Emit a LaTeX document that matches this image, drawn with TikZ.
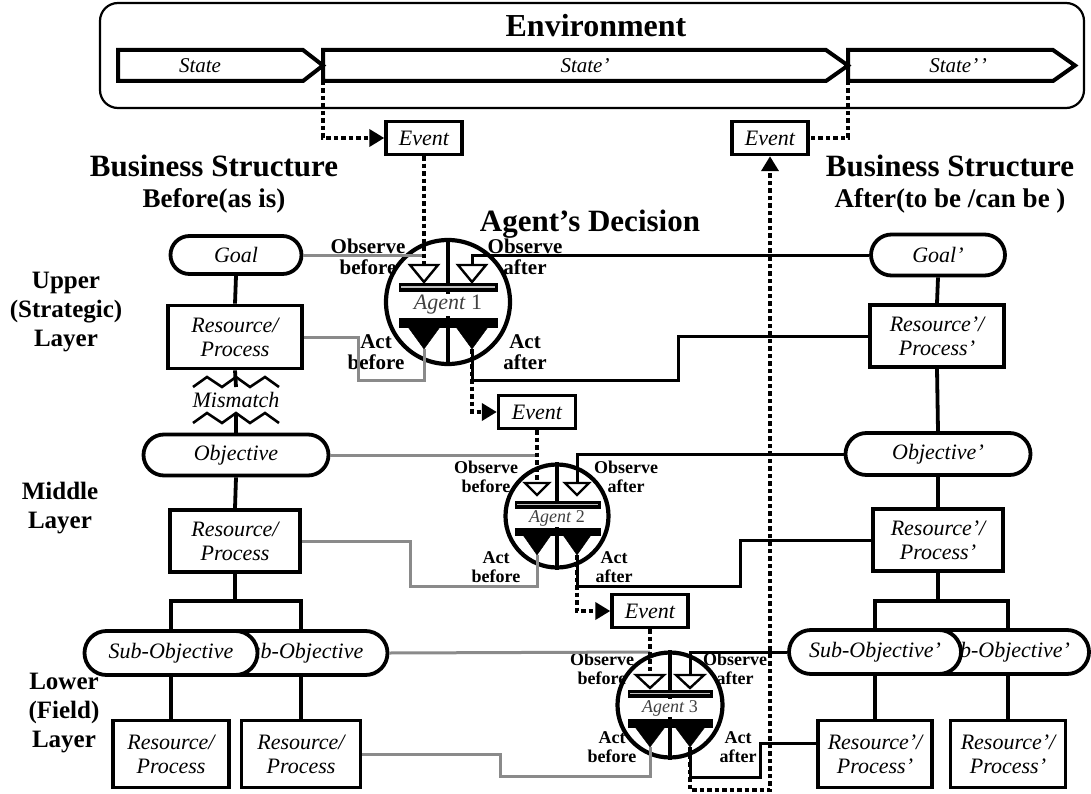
\documentclass[tikz,border=0pt]{standalone}
\usepackage{fontspec}
\setmainfont{Liberation Serif}
\usetikzlibrary{shapes.misc,arrows.meta}
\newcommand\fsz[2]{\fontsize{#1pt}{#2pt}\selectfont}
\definecolor{linkgray}{HTML}{8A8A8A}
\definecolor{agentgray}{HTML}{404040}
\begin{document}
\begin{tikzpicture}[x=1pt,y=-1pt,
  box/.style={draw, line width=3.8pt, fill=white, inner sep=1pt, align=center, font=\fsz{22}{24}\itshape},
  stad/.style={rounded rectangle, draw, line width=3.8pt, fill=white, inner sep=1pt, font=\fsz{22}{24}\itshape},
  evbox/.style={draw, line width=3.4pt, fill=white, inner sep=1pt, minimum width=76pt, minimum height=33pt, font=\fsz{22}{24}\itshape},
  tree/.style={line width=3.8pt},
  lk/.style={line width=3pt},
  gl/.style={line width=3pt, draw=linkgray},
  evl/.style={line width=4.5pt, dash pattern=on 4.5pt off 3pt},
  evtip/.style={-{Triangle[length=15pt,width=17pt]}},
  statebox/.style={line width=4pt},
  head/.style={font=\fsz{31}{33}\bfseries},
  subhead/.style={font=\fsz{27}{29}\bfseries},
  layer/.style={font=\fsz{25}{29}\bfseries, align=center},
  lblA/.style={font=\fsz{21}{21}\bfseries, align=center, inner sep=0},
  lblB/.style={font=\fsz{18}{19}\bfseries, align=center, inner sep=0},
  ring/.style={circle, draw, line width=4.2pt, inner sep=0},
  otri/.style={line width=2.4pt, fill=white},
  atri/.style={fill=black},
  bar/.style={fill=black},
]
\useasboundingbox (0,0) rectangle (1091,794);

% ---------------- Environment ----------------
\draw[line width=2.2pt, rounded corners=18pt] (100,3) rectangle (1084,108);
\node[font=\fsz{32}{34}\bfseries] (env) at (596,26) {Environment};
\draw[statebox] (118,50) -- (303,50) -- (323,65.5) -- (303,81) -- (118,81) -- cycle;
\draw[statebox] (323,50) -- (826,50) -- (848,65.5) -- (826,81) -- (323,81) -- cycle;
\draw[statebox] (848,50) -- (1053,50) -- (1075,65.5) -- (1053,81) -- (848,81) -- cycle;
\node[font=\fsz{21}{23}\itshape] (s1) at (200,66) {State};
\node[font=\fsz{21}{23}\itshape] (s2) at (585,66) {State’};
\node[font=\fsz{21}{23}\itshape] (s3) at (958,66) {State’\kern1.5pt’};
\coordinate (b1) at (323,81);
\coordinate (b2) at (848,81);

% ---------------- headings ----------------
\node[head] (bsl) at (214,166) {Business Structure};
\node[subhead] (bsl2) at (214,201) {Before(as is)};
\node[head] (bsr) at (950,166) {Business Structure};
\node[subhead] (bsr2) at (950,201) {After(to be /can be )};
\node[head] (dec) at (590,224) {Agent’s Decision};

\node[layer] (lu) at (66,312) {Upper\\(Strategic)\\Layer};
\node[layer] (lm) at (60,508) {Middle\\Layer};
\node[layer] (ll) at (64,713) {Lower\\(Field)\\Layer};

% ---------------- events ----------------
\node[evbox] (ev1) at (424,138) {Event};
\node[evbox] (ev2) at (770,138) {Event};
\node[evbox, minimum width=77pt] (ev3) at (537,412) {Event};
\node[evbox] (ev4) at (650,611) {Event};

% ---------------- left column ----------------
\node[stad, minimum width=133pt, minimum height=38pt] (goal) at (236,255) {Goal};
\node[box, minimum width=134pt, minimum height=63pt] (res1) at (235,337) {Resource/\\Process};
\node[font=\fsz{22}{24}\itshape, inner sep=0] (mm) at (236,400) {Mismatch};
\node[stad, minimum width=187pt, minimum height=41pt] (obj) at (236,455) {Objective};
\node[box, minimum width=130pt, minimum height=62pt] (res2) at (235,541) {Resource/\\Process};
\node[stad, minimum width=175pt, minimum height=44pt] (sub2) at (301,653) {Sub-Objective};
\node[stad, minimum width=175pt, minimum height=44pt] (sub1) at (171,653) {Sub-Objective};
\node[box, minimum width=116pt, minimum height=67pt] (res3) at (171,754) {Resource/\\Process};
\node[box, minimum width=119pt, minimum height=67pt] (res4) at (301,754) {Resource/\\Process};

\draw[tree] (goal.south) -- (res1.north);
\draw[tree] (res1.south) -- (236,387);
\draw[tree] (236,413) -- (obj.north);
\draw[line width=2.6pt] (193,387) -- (207,377) -- (222,387) -- (236,377) -- (250,387) -- (265,377) -- (279,387);
\draw[line width=2.6pt] (193,423) -- (207,413) -- (222,423) -- (236,413) -- (250,423) -- (265,413) -- (279,423);
\draw[tree] (obj.south) -- (res2.north);
\coordinate (lj) at (235,601);
\draw[tree] (res2.south) -- (lj);
\draw[tree] (171,631) |- (301,601) -- (301,631);
\draw[tree] (sub1.south) -- (res3.north);
\draw[tree] (sub2.south) -- (res4.north);

% ---------------- right column ----------------
\node[stad, minimum width=136pt, minimum height=41pt] (goalp) at (938,255) {Goal’};
\node[box, minimum width=134pt, minimum height=62pt] (resp1) at (937,336) {Resource’/\\Process’};
\node[stad, minimum width=187pt, minimum height=42pt] (objp) at (938,454) {Objective’};
\node[box, minimum width=130pt, minimum height=62pt] (resp2) at (938,540) {Resource’/\\Process’};
\node[stad, minimum width=172pt, minimum height=44pt] (subp2) at (1004,652) {Sub-Objective’};
\node[stad, minimum width=174pt, minimum height=44pt] (subp1) at (875,652) {Sub-Objective’};
\node[box, minimum width=114pt, minimum height=67pt] (rp3) at (875,754) {Resource’/\\Process’};
\node[box, minimum width=115pt, minimum height=67pt] (rp4) at (1008,754) {Resource’/\\Process’};

\draw[tree] (goalp.south) -- (resp1.north);
\draw[tree] (resp1.south) -- (objp.north);
\draw[tree] (objp.south) -- (resp2.north);
\coordinate (rj) at (938,601);
\draw[tree] (resp2.south) -- (rj);
\draw[tree] (875,630) |- (1008,601) -- (1008,630);
\draw[tree] (subp1.south) -- (rp3.north);
\draw[tree] (1008,674) -- (rp4.north);

% ---------------- Agent 1 ----------------
\node[lblA] (a1obl) at (368,257) {Observe\\before};
\node[lblA] (a1oal) at (525,257) {Observe\\after};
\node[lblA] (a1abl) at (376,352) {Act\\before};
\node[lblA] (a1aal) at (525,352) {Act\\after};
\node[ring, minimum size=124pt] (ag1) at (448,302) {};
\draw[line width=4pt] (ag1.north) -- (ag1.south);
\draw[bar] (399,283) rectangle (497,291);
\draw[white!75!black, line width=1.2pt] (401,287) -- (495,287);
\draw[bar] (399,318) rectangle (497,327);
\draw[otri] (410,265) -- (438,265) -- (424,282) -- cycle;
\draw[otri] (458,265) -- (486,265) -- (472,282) -- cycle;
\draw[atri] (408,327) -- (440,327) -- (424,349) -- cycle;
\draw[atri] (456,327) -- (488,327) -- (472,349) -- cycle;
\node[fill=white, inner sep=1pt, text=agentgray, font=\fsz{22}{24}] (ag1t) at (448,305) {\itshape Agent\/ \upshape 1};
\coordinate (a1ob) at (424,265);
\coordinate (a1oa) at (472,265);
\coordinate (a1ab) at (424,349);
\coordinate (a1aa) at (472,349);

% ---------------- Agent 2 ----------------
\node[lblB] (a2obl) at (486,477) {Observe\\before};
\node[lblB] (a2oal) at (626,477) {Observe\\after};
\node[lblB] (a2abl) at (496,567) {Act\\before};
\node[lblB] (a2aal) at (614,567) {Act\\after};
\node[ring, minimum size=103pt] (ag2) at (557,516) {};
\draw[line width=4pt] (ag2.north) -- (ag2.south);
\draw[bar] (515,501) rectangle (600,508);
\draw[white!75!black, line width=1.1pt] (517,504.5) -- (598,504.5);
\draw[bar] (515,528) rectangle (600,535);
\draw[otri] (525,483) -- (549,483) -- (537,495) -- cycle;
\draw[otri] (565,483) -- (589,483) -- (577,495) -- cycle;
\draw[atri] (523,535) -- (551,535) -- (537,555) -- cycle;
\draw[atri] (563,535) -- (591,535) -- (577,555) -- cycle;
\node[fill=white, inner sep=1pt, text=agentgray, font=\fsz{18}{20}] (ag2t) at (557,518) {\itshape Agent\/ \upshape 2};
\coordinate (a2ob) at (537,483);
\coordinate (a2oa) at (577,483);
\coordinate (a2ab) at (537,555);
\coordinate (a2aa) at (577,555);

% ---------------- Agent 3 ----------------
\node[lblB] (a3obl) at (602,669) {Observe\\before};
\node[lblB] (a3oal) at (735,669) {Observe\\after};
\node[lblB] (a3abl) at (612,747) {Act\\before};
\node[lblB] (a3aal) at (738,747) {Act\\after};
\node[ring, minimum size=105pt] (ag3) at (670,705) {};
\draw[line width=4pt] (ag3.north) -- (ag3.south);
\draw[bar] (628,690) rectangle (712,697);
\draw[white!75!black, line width=1.1pt] (630,693.5) -- (710,693.5);
\draw[bar] (628,719) rectangle (712,727);
\draw[otri] (636,675) -- (664,675) -- (650,688) -- cycle;
\draw[otri] (676,675) -- (704,675) -- (690,688) -- cycle;
\draw[atri] (635,727) -- (665,727) -- (650,747) -- cycle;
\draw[atri] (675,727) -- (705,727) -- (690,747) -- cycle;
\node[fill=white, inner sep=1pt, text=agentgray, font=\fsz{18}{20}] (ag3t) at (670,708) {\itshape Agent\/ \upshape 3};
\coordinate (a3ob) at (650,675);
\coordinate (a3oa) at (690,675);
\coordinate (a3ab) at (650,747);
\coordinate (a3aa) at (690,747);

% ---------------- connectors: Agent 1 ----------------
\coordinate (j1) at (424,255);
\draw[gl] (goal.east) -- (j1);
\draw[lk] (goalp.west) -| (a1oa);
\draw[gl] (res1.east) -- (358,337) -- (358,380) -- (424,380) -- (a1ab);
\draw[lk] (a1aa) -- (472,380) -- (678,380) -- (678,336) -- (resp1.west);

% ---------------- connectors: Agent 2 ----------------
\coordinate (j2) at (537,455);
\draw[gl] (obj.east) -- (j2);
\draw[lk] (objp.west) -| (a2oa);
\draw[gl] (res2.east) -- (410,541) -- (410,586) -- (537,586) -- (a2ab);
\draw[lk] (a2aa) -- (577,586) -- (740,586) -- (740,540) -- (resp2.west);

% ---------------- connectors: Agent 3 ----------------
\coordinate (j3) at (650,652);
\draw[gl] (sub2.east) -- (j3);
\draw[lk] (subp1.west) -| (a3oa);
\draw[gl] (res4.east) -- (500,754) -- (500,776) -- (650,776) -- (a3ab);
\draw[lk] (a3aa) -- (690,777) -- (760,777) -- (760,743) -- ([yshift=11pt]rp3.west);

% ---------------- event flows (dotted) ----------------
\draw[evl, evtip] (b1) |- (ev1.west);
\draw[evl] (b2) |- (ev2.east);
\draw[evl] (ev1.south) -- (a1ob);
\draw[evl, evtip] (a1aa) |- (ev3.west);
\draw[evl] (ev3.south) -- (a2ob);
\draw[evl, evtip] (a2aa) |- (ev4.west);
\draw[evl] (ev4.south) -- (a3ob);
\draw[evl, evtip] (a3aa) -- (690,790) -| (ev2.south);
\end{tikzpicture}
\end{document}
